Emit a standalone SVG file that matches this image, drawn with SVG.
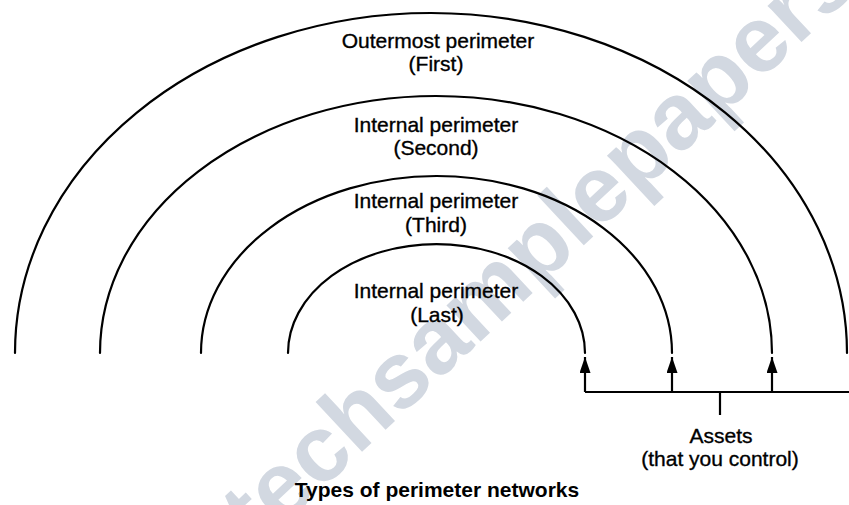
<svg xmlns="http://www.w3.org/2000/svg" width="849" height="505" viewBox="0 0 849 505">
  <defs>
    <style>
      .arc { fill: none; stroke: #000; stroke-width: 2.2; stroke-linecap: round; }
      .line { fill: none; stroke: #000; stroke-width: 2.2; }
      .lbl { font-family: "Liberation Sans", Arial, sans-serif; font-size: 21px; fill: #000; stroke: #000; stroke-width: 0.35; text-anchor: middle; }
      .title { font-family: "Liberation Sans", Arial, sans-serif; font-size: 21px; font-weight: bold; fill: #000; text-anchor: middle; }
      .wm { font-family: "Liberation Sans", Arial, sans-serif; font-size: 94px; font-weight: bold; fill: #d2d8e1; }
    </style>
    <marker id="arrow" viewBox="0 0 16 11" refX="16" refY="5.5" markerWidth="16" markerHeight="11" markerUnits="userSpaceOnUse" orient="auto">
      <path d="M0,0 L16,5.5 L0,11 Z" fill="#000"/>
    </marker>
  </defs>
  <rect width="849" height="505" fill="#fff"/>

  <text class="wm" transform="translate(258 549) rotate(-43)">techsamplepapers</text>

  <g id="perimeter-first">
    <path class="arc" d="M15 353 A416 340 0 0 1 847 353"/>
    <text class="lbl" x="438" y="48">Outermost perimeter</text>
    <text class="lbl" x="436" y="71">(First)</text>
  </g>
  <g id="perimeter-second">
    <path class="arc" d="M100 353 A336 257 0 0 1 772 353"/>
    <text class="lbl" x="436" y="132">Internal perimeter</text>
    <text class="lbl" x="436" y="155">(Second)</text>
  </g>
  <g id="perimeter-third">
    <path class="arc" d="M201 353 A235.5 177 0 0 1 672 353"/>
    <text class="lbl" x="436" y="208">Internal perimeter</text>
    <text class="lbl" x="436" y="232">(Third)</text>
  </g>
  <g id="perimeter-last">
    <path class="arc" d="M288 353 A148.5 109 0 0 1 585 353"/>
    <text class="lbl" x="436" y="298">Internal perimeter</text>
    <text class="lbl" x="437" y="322">(Last)</text>
  </g>
  <g id="assets">
    <text class="lbl" x="721" y="443">Assets</text>
    <text class="lbl" x="720" y="466">(that you control)</text>
  </g>

  <g id="connectors">
    <path class="line" d="M585 392 H849"/>
    <path class="line" d="M720 392 V415"/>
    <path class="line" d="M585 392 V357" marker-end="url(#arrow)"/>
    <path class="line" d="M672 392 V357" marker-end="url(#arrow)"/>
    <path class="line" d="M772 392 V357" marker-end="url(#arrow)"/>
  </g>

  <text class="title" x="437" y="497">Types of perimeter networks</text>
</svg>
